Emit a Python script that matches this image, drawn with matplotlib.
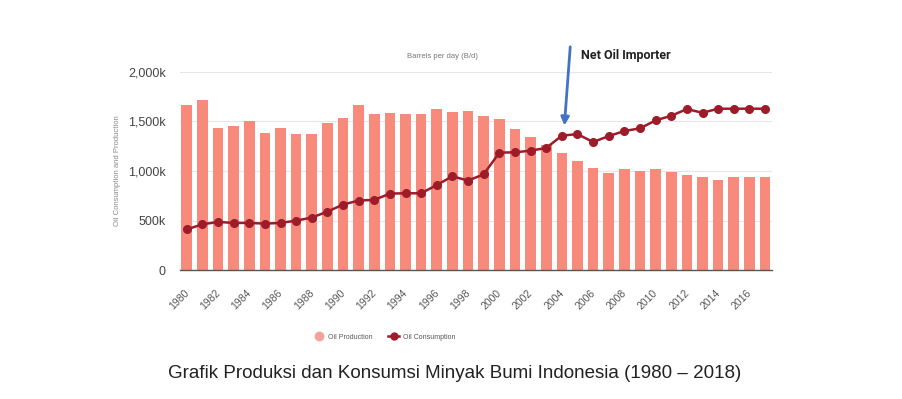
import numpy as np
from matplotlib import pyplot as plt
from matplotlib.lines import Line2D
import matplotlib.transforms as mtransforms

years = list(range(1980, 2018))
production = [1666, 1713, 1430, 1450, 1501, 1379, 1433, 1369, 1369, 1480,
              1538, 1666, 1578, 1580, 1577, 1577, 1624, 1597, 1607, 1557,
              1520, 1427, 1340, 1262, 1180, 1101, 1030, 983, 1020, 1003,
              1020, 990, 963, 936, 906, 936, 936, 936]
consumption = [411, 462, 486, 476, 476, 469, 476, 499, 530, 590,
               661, 702, 708, 772, 775, 775, 859, 946, 903, 966,
               1185, 1188, 1205, 1232, 1356, 1372, 1292, 1352, 1403, 1430,
               1510, 1557, 1624, 1587, 1628, 1628, 1628, 1628]
yticks = [0, 500, 1000, 1500, 2000]
ytick_labels = ["0", "500k", "1,000k", "1,500k", "2,000k"]

plt.rcParams['font.family'] = ['Liberation Sans', 'DejaVu Sans']

fig = plt.figure(figsize=(9.03, 3.99), dpi=100)
ax = fig.add_axes([0.199, 0.323, 0.656, 0.497])

x = np.arange(len(years))
ax.bar(x, production, width=0.68, color="#F88A7B", zorder=2)
ax.plot(x, consumption, color="#9E1B2A", lw=1.8, marker="o", ms=5.5, zorder=3)

ax.set_xlim(-0.45, len(years) - 0.55)
ax.set_ylim(0, 2000)
ax.set_yticks(yticks)
ax.set_yticklabels(ytick_labels, fontsize=9, color="#444444")
ax.yaxis.grid(True, color="#E6E6E6", lw=0.8, zorder=0)
ax.set_axisbelow(True)

tick_pos = [i for i, y in enumerate(years) if y % 2 == 0]
ax.set_xticks(tick_pos)
ax.set_xticklabels([str(years[i]) for i in tick_pos], rotation=45, ha="right",
                   rotation_mode="anchor", fontsize=7.5, color="#555555")
ax.tick_params(axis="x", length=0, pad=13)
ax.tick_params(axis="y", length=0, pad=10)
# nudge x labels a little left
shift = mtransforms.ScaledTranslation(-3 / 100, 0, fig.dpi_scale_trans)
for lbl in ax.get_xticklabels():
    lbl.set_transform(lbl.get_transform() + shift)

for s in ["top", "right", "left"]:
    ax.spines[s].set_visible(False)
ax.spines["bottom"].set_color("#555555")
ax.spines["bottom"].set_linewidth(1.0)

ax.set_ylabel("Oil Consumption and Production", fontsize=5.5, color="#888888", labelpad=5)
ax.text(0.443, 1.075, "Barrels per day (B/d)", transform=ax.transAxes,
        fontsize=5.5, color="#777777", ha="center", va="center")

# arrow + annotation
ax.annotate("", xy=(24.15, 1430), xytext=(24.55, 2280),
            arrowprops=dict(arrowstyle="-|>", color="#4472C4", lw=2, mutation_scale=12),
            annotation_clip=False)
ax.text(25.2, 2160, "Net Oil Importer", fontsize=9, color="#222222",
        family=["Roboto", "Liberation Sans"],
        fontweight="bold", va="center")

handles = [Line2D([], [], marker="o", ls="none", color="#F4A29A", ms=6),
           Line2D([], [], marker="o", color="#9E1B2A", ms=5, lw=1.8)]
fig.legend(handles, ["Oil Production", "Oil Consumption"], loc="center",
           bbox_to_anchor=(0.426, 0.155), ncol=2, frameon=False, fontsize=5,
           handlelength=1.6, handletextpad=0.5, columnspacing=2.2,
           labelcolor="#555555")

fig.text(0.503, 0.065, "Grafik Produksi dan Konsumsi Minyak Bumi Indonesia (1980 \u2013 2018)",
         ha="center", va="center", fontsize=13.5, color="#222222")

plt.savefig("out.png", dpi=100)
